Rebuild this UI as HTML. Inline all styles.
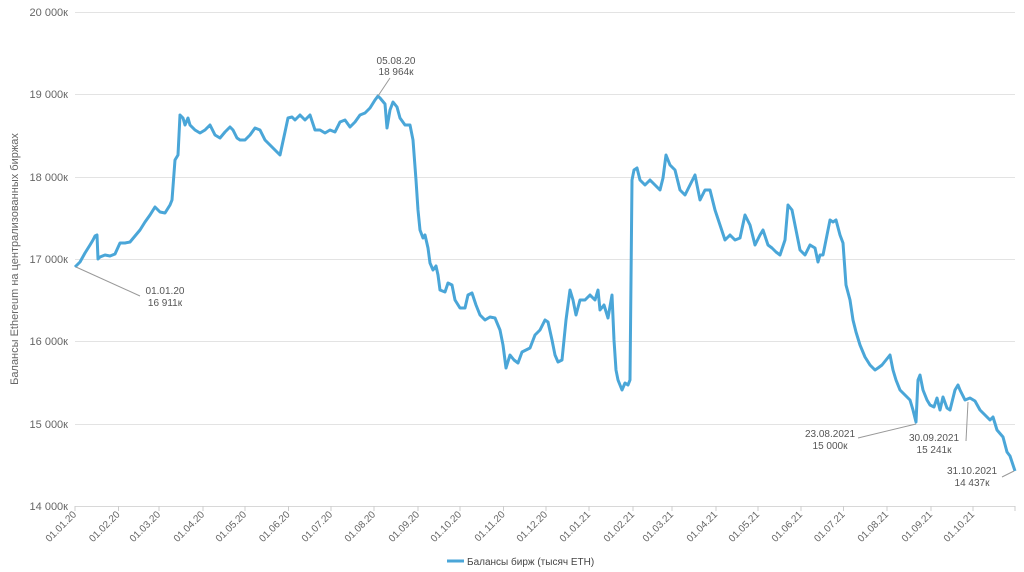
<!DOCTYPE html>
<html><head><meta charset="utf-8"><style>
body{margin:0;background:#fff;}
svg{display:block;font-family:"Liberation Sans",sans-serif;}
</style></head><body>
<svg width="1024" height="572" viewBox="0 0 1024 572">
<g stroke="#e3e3e3" stroke-width="1">
<line x1="75" x2="1015" y1="12.5" y2="12.5"/><line x1="75" x2="1015" y1="94.5" y2="94.5"/>
<line x1="75" x2="1015" y1="177.5" y2="177.5"/><line x1="75" x2="1015" y1="259.5" y2="259.5"/>
<line x1="75" x2="1015" y1="341.5" y2="341.5"/><line x1="75" x2="1015" y1="424.5" y2="424.5"/>
<line x1="75" x2="1015" y1="506.5" y2="506.5" stroke="#d8d8d8"/>
</g>
<g font-size="11" fill="#666" text-anchor="end">
<text x="68" y="16">20 000к</text><text x="68" y="98">19 000к</text><text x="68" y="181">18 000к</text>
<text x="68" y="263">17 000к</text><text x="68" y="345">16 000к</text><text x="68" y="428">15 000к</text>
<text x="68" y="510">14 000к</text>
</g>
<text transform="translate(18,259) rotate(-90)" font-size="11" fill="#666" text-anchor="middle">Балансы Ethereum на централизованных биржах</text>
<g stroke="#ccc">
<line x1="75" x2="75" y1="506" y2="511"/><line x1="118.5" x2="118.5" y1="506" y2="511"/><line x1="159" x2="159" y1="506" y2="511"/><line x1="203" x2="203" y1="506" y2="511"/><line x1="245" x2="245" y1="506" y2="511"/><line x1="288.5" x2="288.5" y1="506" y2="511"/><line x1="331" x2="331" y1="506" y2="511"/><line x1="374" x2="374" y1="506" y2="511"/><line x1="418" x2="418" y1="506" y2="511"/><line x1="460" x2="460" y1="506" y2="511"/><line x1="503.5" x2="503.5" y1="506" y2="511"/><line x1="546" x2="546" y1="506" y2="511"/><line x1="589" x2="589" y1="506" y2="511"/><line x1="633" x2="633" y1="506" y2="511"/><line x1="672" x2="672" y1="506" y2="511"/><line x1="716" x2="716" y1="506" y2="511"/><line x1="758" x2="758" y1="506" y2="511"/><line x1="801" x2="801" y1="506" y2="511"/><line x1="843.5" x2="843.5" y1="506" y2="511"/><line x1="887" x2="887" y1="506" y2="511"/><line x1="931" x2="931" y1="506" y2="511"/><line x1="973" x2="973" y1="506" y2="511"/><line x1="1015" x2="1015" y1="506" y2="511"/>
</g>
<g font-size="10" fill="#666" text-anchor="end">
<text transform="translate(77,515) rotate(-45)">01.01.20</text>
<text transform="translate(120.5,515) rotate(-45)">01.02.20</text>
<text transform="translate(161,515) rotate(-45)">01.03.20</text>
<text transform="translate(205,515) rotate(-45)">01.04.20</text>
<text transform="translate(247,515) rotate(-45)">01.05.20</text>
<text transform="translate(290.5,515) rotate(-45)">01.06.20</text>
<text transform="translate(333,515) rotate(-45)">01.07.20</text>
<text transform="translate(376,515) rotate(-45)">01.08.20</text>
<text transform="translate(420,515) rotate(-45)">01.09.20</text>
<text transform="translate(462,515) rotate(-45)">01.10.20</text>
<text transform="translate(505.5,515) rotate(-45)">01.11.20</text>
<text transform="translate(548,515) rotate(-45)">01.12.20</text>
<text transform="translate(591,515) rotate(-45)">01.01.21</text>
<text transform="translate(635,515) rotate(-45)">01.02.21</text>
<text transform="translate(674,515) rotate(-45)">01.03.21</text>
<text transform="translate(718,515) rotate(-45)">01.04.21</text>
<text transform="translate(760,515) rotate(-45)">01.05.21</text>
<text transform="translate(803,515) rotate(-45)">01.06.21</text>
<text transform="translate(845.5,515) rotate(-45)">01.07.21</text>
<text transform="translate(889,515) rotate(-45)">01.08.21</text>
<text transform="translate(933,515) rotate(-45)">01.09.21</text>
<text transform="translate(975,515) rotate(-45)">01.10.21</text>
</g>
<polyline fill="none" stroke="#4aa6d8" stroke-width="3" stroke-linejoin="round" points="75,267 80,262 85,253 90,245 93,240 95,236 97,235 98,259 100,257 105,255 110,256 115,254 120,243 125,243 130,242 135,236 140,230 145,222 150,215 155,207 160,212 165,213 170,205 172,200 175,160 178,155 180,115 183,118 185,125 188,118 190,125 195,130 200,133 205,130 210,125 215,135 220,138 225,132 230,127 233,130 237,138 240,140 245,140 250,135 255,128 260,130 265,140 270,145 275,150 280,155 285,132 288,118 292,117 295,120 300,115 305,120 310,115 315,130 320,130 325,133 330,130 335,132 340,122 345,120 350,127 355,122 360,115 365,113 370,108 375,100 378,96 380,98 385,104 387,128 390,110 393,102 397,107 400,118 405,125 410,125 413,140 416,180 418,210 420,230 423,238 425,235 428,248 430,263 433,270 436,266 438,275 440,290 445,292 448,283 452,285 455,300 460,308 465,308 468,295 472,293 476,305 480,315 485,320 490,317 495,318 500,330 503,345 506,368 510,355 514,360 518,363 522,352 526,350 530,348 535,335 540,330 545,320 548,322 552,340 555,355 558,362 562,360 566,320 570,290 573,300 576,315 580,300 585,300 590,295 595,300 598,290 600,310 604,305 608,318 612,295 614,340 616,370 618,380 620,385 622,390 625,383 628,385 630,380 632,180 634,170 637,168 640,180 645,185 650,180 655,185 660,190 663,178 666,155 670,165 675,170 680,190 685,195 690,185 695,175 700,200 705,190 710,190 715,210 720,225 725,240 730,235 735,240 740,238 745,215 750,225 755,245 760,235 763,230 768,245 772,248 776,252 780,255 785,240 788,205 792,210 795,225 800,250 805,255 810,245 815,248 818,262 820,255 823,255 826,240 830,220 833,222 836,220 840,235 843,243 846,285 850,300 853,320 856,332 860,345 865,357 870,365 875,370 878,368 882,365 886,360 890,355 893,370 896,380 900,390 905,395 910,400 913,410 916,422 918,380 920,375 923,390 927,400 930,405 934,407 937,398 940,410 943,397 947,408 950,410 955,390 958,385 960,390 965,400 970,398 975,401 980,410 985,415 990,420 993,417 997,430 1003,437 1007,452 1010,456 1013,465 1015,471"/>
<g stroke="#999" stroke-width="1" fill="none">
<line x1="76" y1="267" x2="140" y2="296"/>
<line x1="378" y1="96" x2="390" y2="78"/>
<line x1="916" y1="424" x2="858" y2="438"/>
<line x1="968" y1="402" x2="966" y2="441"/>
<line x1="1014" y1="471" x2="1002" y2="477"/>
</g>
<g font-size="10" fill="#555" text-anchor="middle">
<text x="165" y="294">01.01.20</text><text x="165" y="306">16 911к</text>
<text x="396" y="64">05.08.20</text><text x="396" y="75">18 964к</text>
<text x="830" y="437">23.08.2021</text><text x="830" y="449">15 000к</text>
<text x="934" y="441">30.09.2021</text><text x="934" y="453">15 241к</text>
<text x="972" y="474">31.10.2021</text><text x="972" y="486">14 437к</text>
</g>
<line x1="447" x2="464" y1="561" y2="561" stroke="#4aa6d8" stroke-width="3"/>
<text x="467" y="565" font-size="10" fill="#444">Балансы бирж (тысяч ETH)</text>
</svg>
</body></html>
